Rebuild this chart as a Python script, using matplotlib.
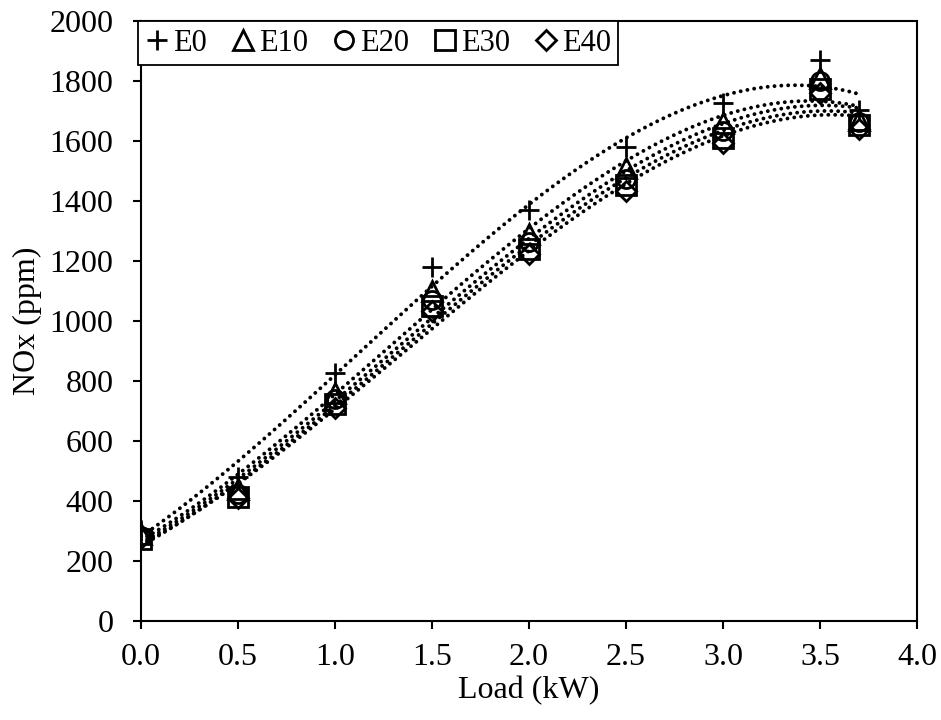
import numpy as np
import matplotlib
matplotlib.use("Agg")
import matplotlib.pyplot as plt

plt.rcParams['font.family'] = ['Liberation Serif', 'DejaVu Serif']

load = [0.0, 0.5, 1.0, 1.5, 2.0, 2.5, 3.0, 3.5, 3.7]
e0 = [303, 480, 827, 1180, 1370, 1580, 1727, 1870, 1703]
e10 = [290, 440, 760, 1100, 1290, 1510, 1660, 1810, 1670]
e20 = [282, 422, 740, 1070, 1262, 1472, 1632, 1800, 1662]
e30 = [272, 412, 722, 1050, 1240, 1452, 1610, 1772, 1652]
e40 = [276, 410, 710, 1032, 1222, 1432, 1592, 1760, 1640]

names = ['E0', 'E10', 'E20', 'E30', 'E40']
series = [e0, e10, e20, e30, e40]
markers = ['+', '^', 'o', 's', 'D']
sizes = [15, 14, 13, 14, 10.5]

fig = plt.figure(figsize=(9.41, 7.2), dpi=100)
ax = fig.add_axes([0.15, 0.1375, 0.8245, 0.8333])

x = np.array(load)
xs = np.linspace(0, 3.7, 200)
for name, y, m, s in zip(names, series, markers, sizes):
    # Excel-style polynomial trendline (order 3)
    c = np.polyfit(x, y, 3)
    ax.plot(xs, np.polyval(c, xs), color='black', lw=2.8,
            linestyle=(0, (0.01, 1.75)), dash_capstyle='round')
    ax.plot(x, y, linestyle='none', marker=m, markersize=s,
            markerfacecolor='none', markeredgecolor='black',
            markeredgewidth=2, label=name)

ax.set_xlim(0, 4)
ax.set_ylim(0, 2000)
ax.set_xticks(np.arange(0, 4.01, 0.5))
ax.set_xticklabels(['%.1f' % v for v in np.arange(0, 4.01, 0.5)])
ax.set_yticks(range(0, 2001, 200))
ax.tick_params(direction='out', length=6, width=1.5, labelsize=23)
ax.tick_params(axis='x', pad=10)
ax.tick_params(axis='y', pad=14)
for sp in ax.spines.values():
    sp.set_linewidth(1.5)
ax.set_xlabel('Load (kW)', fontsize=23, labelpad=3)
ax.set_ylabel('NOx (ppm)', fontsize=23, labelpad=5)

leg = ax.legend(loc='upper left', bbox_to_anchor=(-0.004, 1.0), ncol=5,
                fontsize=22, frameon=True, fancybox=False, edgecolor='black',
                framealpha=1, handlelength=0.75, handletextpad=0.15,
                columnspacing=0.8, borderpad=0.25, borderaxespad=0.0,
                markerscale=1.0)
leg.get_frame().set_linewidth(1.3)

fig.savefig('out.png', dpi=100)
